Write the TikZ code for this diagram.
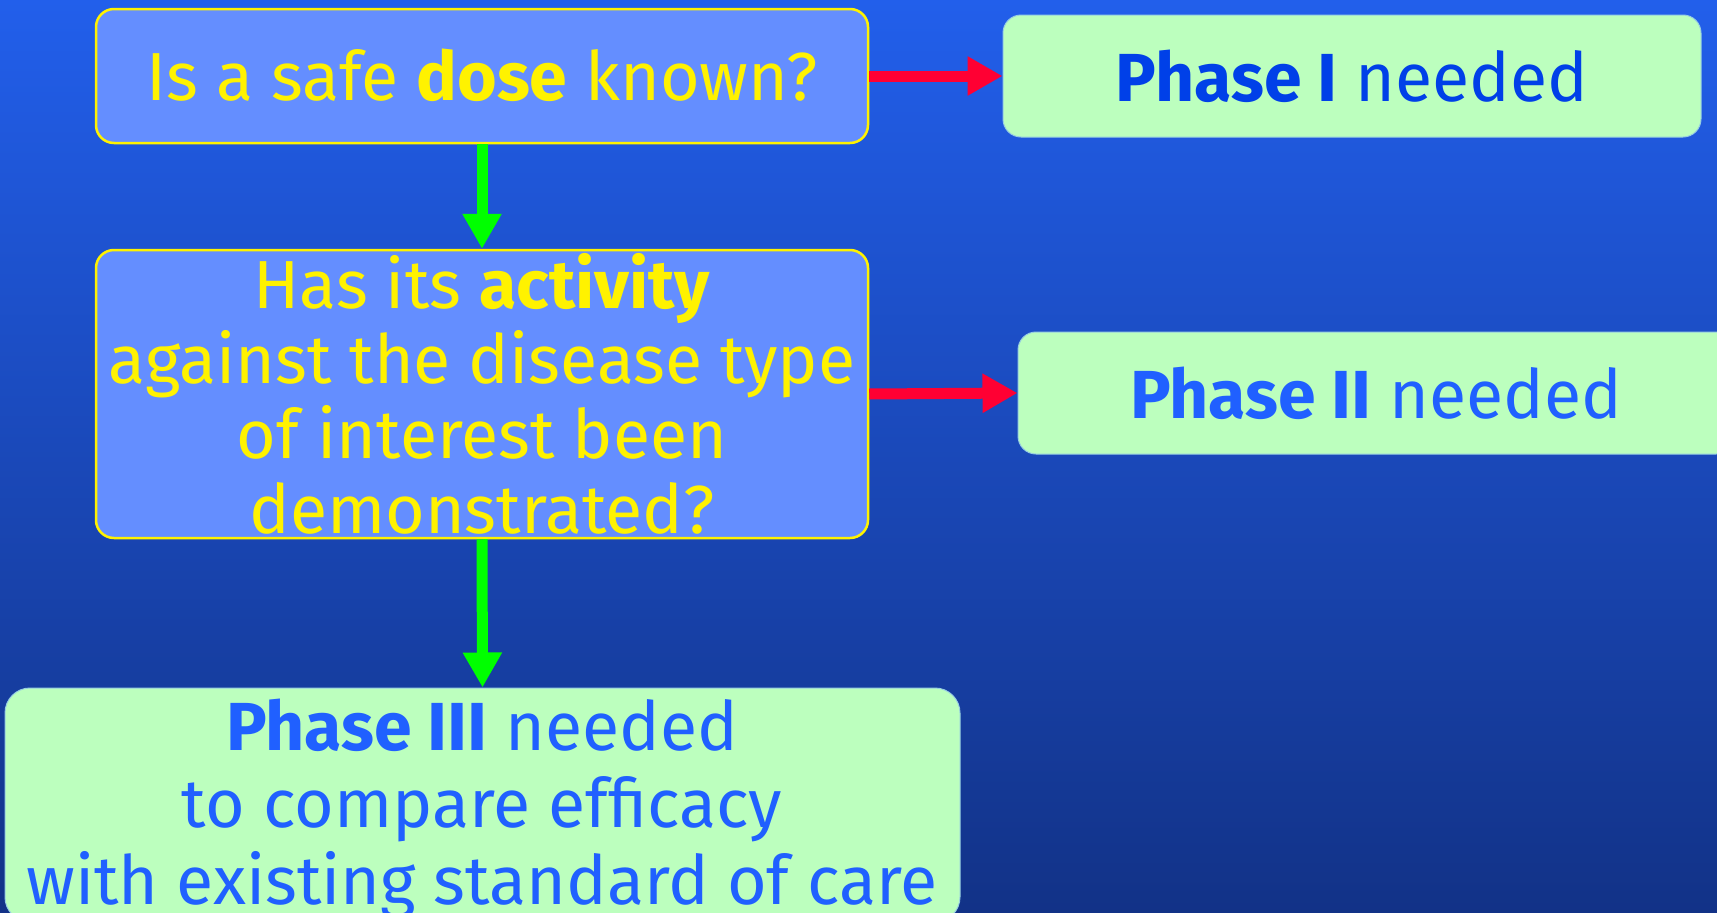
\documentclass[tikz,border=0pt]{standalone}
\usepackage{fontspec}
\setmainfont{Fira Sans}
\usetikzlibrary{arrows.meta}
\definecolor{bgtop}{RGB}{34,95,235}
\definecolor{bgbot}{RGB}{18,50,135}
\definecolor{qfill}{RGB}{100,142,255}
\definecolor{pfill}{RGB}{188,255,190}
\definecolor{pline}{RGB}{150,205,225}
\definecolor{ptextA}{RGB}{0,64,232}
\definecolor{ptextB}{RGB}{32,96,255}
\definecolor{yes}{RGB}{0,255,0}
\definecolor{no}{RGB}{255,0,51}
\tikzset{
  qbox/.style={draw=yellow, line width=2.5pt, fill=qfill, rounded corners=18pt, inner sep=0pt},
  pbox/.style={draw=pline, line width=1pt, fill=pfill, rounded corners=18pt, inner sep=0pt},
  qtext/.style={text=yellow, align=center, inner sep=0pt, font=\fontsize{68}{75}\selectfont},
  ptext/.style={align=center, inner sep=0pt, font=\fontsize{68}{77}\selectfont},
  yesarrow/.style={draw=yes, line width=11pt, -{Triangle[width=37pt,length=35pt]}, fill=yes},
  noarrow/.style={draw=no, line width=11pt, -{Triangle[width=37pt,length=35pt]}, fill=no},
}
\begin{document}
\begin{tikzpicture}[x=1pt,y=-1pt]
\useasboundingbox (0,0) rectangle (1717,913);
\shade[top color=bgtop, bottom color=bgbot] (0,0) rectangle (1717,913);
% boxes
\node[qbox, minimum width=772pt, minimum height=134pt] (q1) at (482,76) {};
\node[pbox, minimum width=698pt, minimum height=122pt] (p1) at (1352,76) {};
\node[qbox, minimum width=772pt, minimum height=288pt] (q2) at (482,394) {};
\node[pbox, minimum width=716pt, minimum height=122pt] (p2) at (1376,393) {};
\node[pbox, minimum width=955pt, minimum height=234pt, rounded corners=25pt] (p3) at (482.5,805) {};
% texts
\node[qtext] (q1t) at (482,75) {Is a safe \textbf{dose} known?};
\node[ptext, text=ptextA] (p1t) at (p1.center) {\textbf{Phase I} needed};
\node[qtext] (q2t) at (482,394) {Has its \textbf{activity}\\against the disease type\\of interest been\\demonstrated?};
\node[ptext, text=ptextB] (p2t) at (p2.center) {\textbf{Phase II} needed};
\node[ptext, text=ptextB] (p3t) at (482,809) {\textbf{Phase III} needed\\to compare efficacy\\with existing standard of care};
% arrows
\draw[yesarrow] (q1.south) -- (q2.north);
\draw[yesarrow] (q2.south) -- (p3.north);
\draw[noarrow] (q1.east) -- (p1.west);
\draw[noarrow] (q2.east) -- (p2.west);
\end{tikzpicture}
\end{document}
